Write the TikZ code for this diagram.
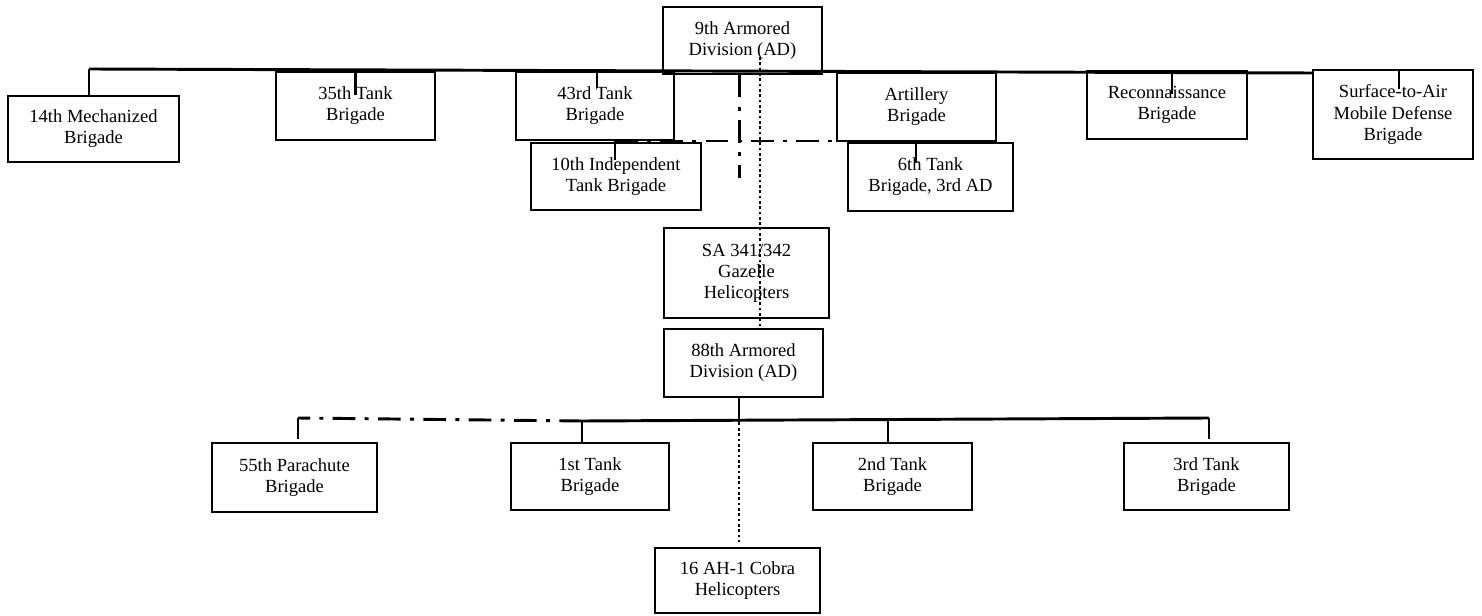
\documentclass[tikz,border=0pt]{standalone}
\usepackage{fontspec}
\setmainfont{Liberation Serif}
\usetikzlibrary{calc}

\begin{document}
\begin{tikzpicture}[x=0.75pt, y=-0.75pt,
    unit/.style 2 args={draw=black, line width=1pt, inner sep=0pt, align=center,
      minimum width=#1, minimum height=#2, font=\fontsize{13.9}{15.8}\selectfont},
    link/.style={line width=2.2pt},
    dashdot/.style={line width=2.2pt, dash pattern=on 17pt off 7pt on 3pt off 7pt},
    dots/.style={line width=2pt, dash pattern=on 2pt off 2pt}]
  \useasboundingbox (0,0) rectangle (1482,616);

  % first division and its brigades
  \node [unit={119.3pt}{50.3pt}] (div9) at (742.5,40.5) {9th Armored\\Division (AD)};
  \node [unit={128.3pt}{49.5pt}] (mech14) at (93.5,129) {14th Mechanized\\Brigade};
  \node [unit={119.3pt}{51pt}] (tank35) at (355.5,106) {35th Tank\\Brigade};
  \node [unit={118.5pt}{51pt}] (tank43) at (595,106) {43rd Tank\\Brigade};
  \node [unit={119.3pt}{51pt}] (art) at (916.5,107) {Artillery\\Brigade};
  \node [unit={120pt}{51pt}] (recon) at (1167,105) {Reconnaissance\\Brigade};
  \node [unit={120pt}{66.8pt}] (sam) at (1393,114.5) {Surface-to-Air\\Mobile Defense\\Brigade};
  \node [unit={127.5pt}{50.3pt}] (ind10) at (616,176.5) {10th Independent\\Tank Brigade};
  \node [unit={123.8pt}{51pt}] (tank6) at (930.5,177) {6th Tank\\Brigade, 3rd AD};
  \node [unit={123.8pt}{67.5pt}] (gaz) at (746.5,273) {SA 341/342\\Gazelle\\Helicopters};

  % second division and its brigades
  \node [unit={119.3pt}{51pt}] (div88) at (743.5,363) {88th Armored\\Division (AD)};
  \node [unit={123.8pt}{51.8pt}] (para55) at (294.5,477.5) {55th Parachute\\Brigade};
  \node [unit={118.5pt}{50.3pt}] (tank1) at (590,476.5) {1st Tank\\Brigade};
  \node [unit={119.3pt}{50.3pt}] (tank2) at (892.5,476.5) {2nd Tank\\Brigade};
  \node [unit={123.8pt}{50.3pt}] (tank3) at (1206.5,476.5) {3rd Tank\\Brigade};
  \node [unit={123.8pt}{48.8pt}] (cobra) at (737.5,580.5) {16 AH-1 Cobra\\Helicopters};

  % top bus
  \coordinate (busL) at (89,69);
  \coordinate (busR) at (sam.west |- 0,73);
  \draw [link] (busL) -- (busR);
  \draw [link] (busL) -- (busL |- mech14.north);
  \draw [link] (tank35.north) -- ++(0,24);
  \draw [link] ([xshift=1.5pt]tank43.north) -- ++(0,17);
  \draw [link] ([xshift=3.75pt]recon.north) -- ++(0,24);
  \draw [link] ([xshift=4.5pt]sam.north) -- ++(0,20);

  % dash-dot links under the 9th
  \draw [dashdot] ([xshift=-2.6pt]div9.south) -- ++(0,103);
  \coordinate (ddL) at (615,141);
  \coordinate (ddR) at (916,141);
  \draw [dashdot] (ddL) -- (ddR);
  \draw [link] (ddL) -- ++(0,19);
  \draw [link] (ddR) -- ++(0,22);

  % dotted link from the 9th to the 88th
  \coordinate (dotTop) at (760,57);
  \draw [dots] (dotTop) -- (dotTop |- div88.north);

  % lower bus
  \draw [link] ([xshift=-3.4pt]div88.south) -- ++(0,25) coordinate (bus2);
  \coordinate (b2L) at (582,421);
  \coordinate (b2R) at (1209,418);
  \draw [link] (b2L) -- (b2R);
  \draw [link] (b2L) -- (b2L |- tank1.north);
  \draw [link] ([xshift=-3.4pt]tank2.north) -- ++(0,-22);
  \draw [link] (b2R) -- ++(0,21);
  \coordinate (paraT) at (298,418);
  \draw [dashdot] (b2L) -- (paraT);
  \draw [link] (paraT) -- ++(0,21);
  \draw [dots, shorten >=3.75pt] (bus2) -- (bus2 |- cobra.north);
\end{tikzpicture}
\end{document}
